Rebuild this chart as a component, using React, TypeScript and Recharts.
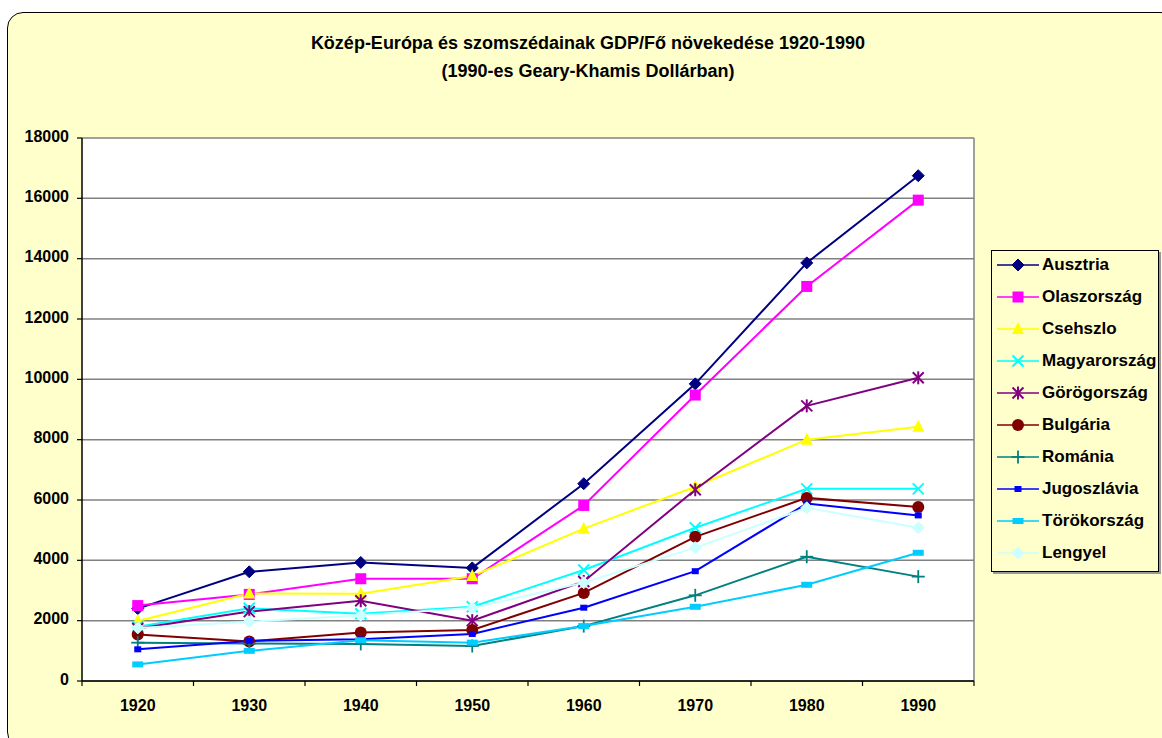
import React from 'react';
import { LineChart, Line, XAxis, YAxis, CartesianGrid, ReferenceLine } from 'recharts';

const years = [1920, 1930, 1940, 1950, 1960, 1970, 1980, 1990];
const ausztria = [2400, 3620, 3930, 3750, 6540, 9850, 13860, 16750];
const olaszorszag = [2500, 2870, 3390, 3390, 5820, 9480, 13080, 15940];
const csehszlo = [1990, 2900, 2890, 3480, 5050, 6440, 8000, 8430];
const magyarorszag = [1800, 2410, 2230, 2460, 3680, 5080, 6370, 6370];
const gorogorszag = [1740, 2300, 2660, 2000, 3300, 6340, 9120, 10050];
const bulgaria = [1540, 1310, 1610, 1690, 2920, 4780, 6070, 5770];
const romania = [1270, 1240, 1230, 1160, 1820, 2840, 4120, 3460];
const jugoszlavia = [1050, 1330, 1380, 1560, 2430, 3640, 5880, 5490];
const torokorszag = [550, 1000, 1350, 1270, 1820, 2460, 3190, 4250];
const lengyel = [1760, 1960, 2180, 2420, 3260, 4420, 5740, 5080];

const yTicks = [0, 2000, 4000, 6000, 8000, 10000, 12000, 14000, 16000, 18000];
const xTicks = [1915, 1920, 1925, 1930, 1935, 1940, 1945, 1950, 1955, 1960, 1965, 1970, 1975, 1980, 1985, 1990, 1995];

const titleLine1 = 'Közép-Európa és szomszédainak GDP/Fő növekedése 1920-1990';
const titleLine2 = '(1990-es Geary-Khamis Dollárban)';

const FONT = '"Liberation Sans", Arial, sans-serif';

type Shape = 'diamond' | 'square' | 'triangle' | 'x' | 'star' | 'circle' | 'plus' | 'smallsquare' | 'rect';

const series: { key: string; name: string; values: number[]; color: string; shape: Shape }[] = [
  { key: 'ausztria', name: 'Ausztria', values: ausztria, color: '#000080', shape: 'diamond' },
  { key: 'olaszorszag', name: 'Olaszország', values: olaszorszag, color: '#FF00FF', shape: 'square' },
  { key: 'csehszlo', name: 'Csehszlo', values: csehszlo, color: '#FFFF00', shape: 'triangle' },
  { key: 'magyarorszag', name: 'Magyarország', values: magyarorszag, color: '#00FFFF', shape: 'x' },
  { key: 'gorogorszag', name: 'Görögország', values: gorogorszag, color: '#800080', shape: 'star' },
  { key: 'bulgaria', name: 'Bulgária', values: bulgaria, color: '#800000', shape: 'circle' },
  { key: 'romania', name: 'Románia', values: romania, color: '#008080', shape: 'plus' },
  { key: 'jugoszlavia', name: 'Jugoszlávia', values: jugoszlavia, color: '#0000FF', shape: 'smallsquare' },
  { key: 'torokorszag', name: 'Törökország', values: torokorszag, color: '#00CCFF', shape: 'rect' },
  { key: 'lengyel', name: 'Lengyel', values: lengyel, color: '#CCFFFF', shape: 'diamond' },
];

const data = years.map((year, i) => {
  const row: Record<string, number> = { year };
  series.forEach((s) => {
    row[s.key] = s.values[i];
  });
  return row;
});

function Marker({ shape, color, cx, cy }: { shape: Shape; color: string; cx: number; cy: number }) {
  switch (shape) {
    case 'diamond':
      return <polygon points={`${cx},${cy - 6} ${cx + 6},${cy} ${cx},${cy + 6} ${cx - 6},${cy}`} fill={color} stroke={color} />;
    case 'square':
      return <rect x={cx - 5.5} y={cy - 5.5} width={11} height={11} fill={color} />;
    case 'triangle':
      return <polygon points={`${cx},${cy - 7} ${cx + 6},${cy + 5} ${cx - 6},${cy + 5}`} fill={color} />;
    case 'x':
      return (
        <g stroke={color} strokeWidth={2}>
          <line x1={cx - 5.5} y1={cy - 5.5} x2={cx + 5.5} y2={cy + 5.5} />
          <line x1={cx - 5.5} y1={cy + 5.5} x2={cx + 5.5} y2={cy - 5.5} />
        </g>
      );
    case 'star':
      return (
        <g stroke={color} strokeWidth={2}>
          <line x1={cx - 5.5} y1={cy - 5.5} x2={cx + 5.5} y2={cy + 5.5} />
          <line x1={cx - 5.5} y1={cy + 5.5} x2={cx + 5.5} y2={cy - 5.5} />
          <line x1={cx} y1={cy - 6.5} x2={cx} y2={cy + 6.5} />
        </g>
      );
    case 'circle':
      return <circle cx={cx} cy={cy} r={6} fill={color} />;
    case 'plus':
      return (
        <g stroke={color} strokeWidth={1.8}>
          <line x1={cx - 6.5} y1={cy} x2={cx + 6.5} y2={cy} />
          <line x1={cx} y1={cy - 6.5} x2={cx} y2={cy + 6.5} />
        </g>
      );
    case 'smallsquare':
      return <rect x={cx - 3.5} y={cy - 3} width={7} height={6} fill={color} />;
    case 'rect':
      return <rect x={cx - 5.5} y={cy - 3} width={11} height={6} fill={color} />;
    default:
      return null;
  }
}

function makeDot(shape: Shape, color: string) {
  return (props: any) => {
    const { cx, cy, index } = props;
    if (cx == null || cy == null) return <g key={index} />;
    return (
      <g key={`${shape}-${index}`}>
        <Marker shape={shape} color={color} cx={cx} cy={cy} />
      </g>
    );
  };
}

function XTick(props: any) {
  const { x, y, payload } = props;
  const v = payload.value as number;
  if (v % 10 === 5) {
    return <line x1={x} y1={y} x2={x} y2={y + 5} stroke="#000" strokeWidth={1.2} />;
  }
  return (
    <text x={x} y={y + 30} textAnchor="middle" fontFamily={FONT} fontWeight="bold" fontSize={16} fill="#000">
      {v}
    </text>
  );
}

function LegendBox() {
  return (
    <div
      style={{
        position: 'absolute',
        left: 991,
        top: 250,
        width: 168,
        height: 322,
        boxSizing: 'border-box',
        border: '1px solid #000',
        background: '#FFFFCC',
        boxShadow: '2px 2px 0 #9a9a9a',
        fontFamily: FONT,
      }}
    >
      {series.map((s, i) => (
        <div key={s.key} style={{ position: 'absolute', left: 0, top: 14 + i * 32 - 12, height: 24, width: 168 }}>
          <svg width={48} height={24} style={{ position: 'absolute', left: 4, top: 0 }}>
            <line x1={1} y1={12} x2={43} y2={12} stroke={s.color} strokeWidth={1.5} />
            <Marker shape={s.shape} color={s.color} cx={22} cy={12} />
          </svg>
          <span
            style={{
              position: 'absolute',
              left: 50,
              top: 0,
              lineHeight: '24px',
              fontSize: 17,
              fontWeight: 'bold',
              color: '#000',
              whiteSpace: 'nowrap',
            }}
          >
            {s.name}
          </span>
        </div>
      ))}
    </div>
  );
}

export default function App() {
  return (
    <div style={{ position: 'fixed', left: 0, top: 0, width: 1162, height: 738, overflow: 'hidden', background: '#fff' }}>
      <div
        style={{
          position: 'absolute',
          left: 7,
          top: 12,
          width: 1170,
          height: 736,
          boxSizing: 'border-box',
          border: '1.5px solid #000',
          borderRadius: 16,
          background: '#FFFFCC',
        }}
      />
      <div
        style={{
          position: 'absolute',
          left: 0,
          width: 1176,
          top: 29,
          textAlign: 'center',
          fontFamily: FONT,
          fontWeight: 'bold',
          fontSize: 18,
          lineHeight: '28px',
          color: '#000',
        }}
      >
        <div>{titleLine1}</div>
        <div>{titleLine2}</div>
      </div>
      <div style={{ position: 'absolute', left: 0, top: 0 }}>
        <LineChart width={1162} height={738} data={data} margin={{ top: 138, right: 188, bottom: 0, left: 0 }}>
          <CartesianGrid vertical={false} stroke="#808080" strokeWidth={1.5} fill="#FFFFFF" />
          <XAxis
            dataKey="year"
            type="number"
            domain={[1915, 1995]}
            ticks={xTicks}
            interval={0}
            tickLine={false}
            tickSize={0}
            tickMargin={0}
            height={57}
            axisLine={{ stroke: '#000', strokeWidth: 1.5 }}
            tick={<XTick />}
          />
          <YAxis
            type="number"
            domain={[0, 18000]}
            ticks={yTicks}
            interval={0}
            width={82}
            tickSize={5}
            tickMargin={8}
            axisLine={{ stroke: '#000', strokeWidth: 1.5 }}
            tickLine={{ stroke: '#000', strokeWidth: 1.2 }}
            tick={{ fill: '#000', fontSize: 16, fontWeight: 'bold', fontFamily: FONT, dy: -2 }}
          />
          <ReferenceLine x={1995} stroke="#808080" strokeWidth={1.5} />
          {series.map((s) => (
            <Line
              key={s.key}
              dataKey={s.key}
              name={s.name}
              stroke={s.color}
              strokeWidth={2}
              isAnimationActive={false}
              dot={makeDot(s.shape, s.color)}
              activeDot={false}
            />
          ))}
        </LineChart>
      </div>
      <LegendBox />
    </div>
  );
}
